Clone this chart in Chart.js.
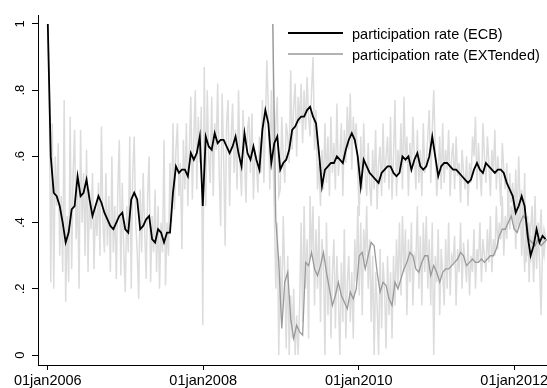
<!DOCTYPE html>
<html>
<head>
<meta charset="utf-8">
<script src="https://cdn.jsdelivr.net/npm/chart.js@4.4.0/dist/chart.umd.min.js"></script>
<style>
  html, body { margin: 0; padding: 0; background: #fff; }
  #wrap { width: 547px; height: 388px; }
</style>
</head>
<body>
<div id="wrap"><canvas id="chart" width="547" height="388"></canvas></div>
<script>
// days are counted from 01jan2006; raw series are weekly, smoothed ones every two weeks
const ecbStartDay = 0;
const extStartDay = 1057;
const rawStep = 7;
const smoothStep = 14;

// weekly participation rate, ECB counterparties
const ecbRaw = [
  1.00, .80, .22, .70, .20, .60, .45, .64, .30, .48, .25, .77, .16, .42, .22, .72, .26, .55, .68, .35, .50, .20, .68, .40, .55, .30,
  .62, .25, .50, .38, .55, .26, .45, .36, .52, .30, .69, .40, .31, .55, .33, .48, .25, .60, .31, .45, .23, .50, .65, .24, .52, .31,
  .19, .45, .31, .66, .20, .55, .66, .40, .31, .17, .50, .31, .55, .38, .23, .48, .60, .22, .42, .31, .50, .25, .45, .20, .40, .31,
  .65, .21, .40, .30, .58, .40, .70, .44, .62, .70, .48, .58, .32, .65, .50, .70, .45, .62, .78, .47, .66, .80, .50, .72, .58, .75,
  .09, .87, .45, .80, .60, .52, .78, .48, .70, .62, .82, .55, .39, .79, .60, .33, .70, .77, .45, .65, .76, .55, .68, .50, .80, .58,
  .48, .74, .60, .46, .68, .72, .55, .73, .47, .62, .58, .49, .66, .55, .77, .52, .70, .89, .75, .50, .80, .62, .45, .70, .78, .48,
  .50, .72, .60, .52, .70, .66, .58, .86, .62, .75, .82, .60, .78, .70, .82, .64, .80, .68, .84, .72, .66, .80, .90, .62, .74, .50,
  .58, .45, .62, .50, .70, .52, .66, .48, .72, .55, .64, .50, .76, .54, .60, .70, .48, .68, .58, .75, .62, .79, .56, .72, .64, .70,
  .55, .42, .66, .50, .70, .55, .48, .64, .52, .45, .62, .50, .68, .44, .58, .63, .48, .70, .52, .60, .66, .50, .72, .47, .60, .77,
  .48, .62, .55, .70, .50, .78, .58, .66, .48, .64, .55, .72, .60, .50, .68, .52, .62, .48, .70, .55, .58, .66, .74, .52, .68, .80,
  .62, .48, .55, .66, .50, .70, .52, .62, .56, .68, .48, .60, .64, .50, .66, .54, .58, .46, .62, .55, .50, .60, .45, .58, .52, .66,
  .60, .72, .50, .64, .55, .48, .70, .60, .52, .66, .58, .48, .62, .55, .68, .50, .60, .54, .45, .64, .56, .50, .58, .42, .55, .46,
  .52, .38, .56, .40, .60, .45, .50, .35, .55, .28, .42, .22, .38, .45, .30, .48, .26, .40, .34, .44, .30, .38, .36
];

// weekly participation rate, extended set of counterparties
const extRaw = [
  1.00, .45, .20, .40, .00, .30, .10, .42, .25, .02, .30, .00, .18, .05, .20, .00, .12, .00, .15, .40, .10, .45, .20, .35, .05, .48,
  .30, .45, .15, .38, .20, .42, .10, .35, .28, .00, .40, .12, .30, .05, .25, .35, .08, .30, .18, .00, .28, .10, .38, .05, .22, .30,
  .10, .25, .05, .35, .22, .45, .18, .40, .12, .38, .28, .45, .20, .35, .10, .30, .00, .25, .15, .00, .32, .08, .28, .20, .02, .30,
  .12, .25, .05, .30, .15, .35, .20, .40, .18, .42, .25, .38, .12, .35, .22, .40, .15, .30, .28, .45, .20, .36, .15, .40, .25, .42,
  .20, .35, .15, .40, .00, .30, .22, .38, .12, .32, .25, .15, .35, .20, .40, .18, .30, .28, .36, .15, .32, .25, .40, .20, .34, .28,
  .22, .35, .18, .30, .25, .38, .20, .32, .28, .40, .22, .35, .30, .25, .38, .28, .42, .25, .35, .30, .45, .32, .40, .35, .48, .30,
  .42, .35, .48, .38, .45, .40, .50, .32, .44, .38, .48, .30, .42, .25, .38, .30, .40, .28, .36, .22, .35, .30, .38, .28, .12, .33, .30, .36
];

// smoothed rates
const ecbSmooth = [
  1.00, .60, .49, .48, .45, .40, .34, .37, .44, .45,
  .54, .48, .49, .53, .47, .42, .45, .48, .46, .43,
  .41, .39, .38, .40, .42, .43, .38, .37, .47, .49,
  .47, .38, .39, .41, .42, .35, .34, .38, .37, .34,
  .37, .37, .49, .57, .55, .56, .56, .54, .61, .59,
  .61, .66, .45, .66, .63, .62, .67, .64, .65, .65,
  .63, .61, .63, .66, .61, .57, .67, .61, .59, .63,
  .59, .56, .68, .74, .70, .58, .64, .66, .56, .58,
  .59, .62, .68, .69, .71, .72, .72, .74, .75, .72,
  .70, .61, .51, .56, .57, .58, .58, .60, .59, .58,
  .62, .65, .67, .65, .60, .51, .59, .57, .55, .54,
  .53, .52, .55, .56, .57, .57, .55, .54, .55, .60,
  .59, .60, .56, .59, .61, .57, .56, .57, .60, .66,
  .60, .54, .57, .58, .58, .57, .56, .56, .55, .54,
  .53, .52, .53, .56, .58, .56, .55, .58, .57, .56,
  .55, .56, .56, .55, .52, .50, .48, .43, .45, .48,
  .45, .36, .30, .33, .38, .34, .36, .35
];

const extSmooth = [
  1.00, .41, .28, .08, .22, .25, .11, .05, .09, .07,
  .06, .28, .27, .31, .26, .24, .27, .31, .25, .20,
  .15, .18, .22, .18, .16, .14, .19, .17, .20, .30,
  .31, .26, .30, .34, .33, .25, .19, .22, .21, .17,
  .15, .22, .20, .23, .26, .28, .31, .30, .26, .25,
  .28, .30, .30, .24, .27, .25, .22, .25, .26, .26,
  .27, .28, .29, .31, .30, .27, .28, .29, .28, .28,
  .29, .28, .29, .30, .30, .32, .36, .38, .38, .40,
  .42, .38, .37, .40, .42, .41, .35, .34, .33, .35,
  .33, .34, .35
];

const seriesLabels = ['participation rate (ECB)', 'participation rate (EXTended)'];
const xTickDays = [0, 730, 1461, 2191];
const xTickLabels = ['01jan2006', '01jan2008', '01jan2010', '01jan2012'];
const yTickValues = [0, .2, .4, .6, .8, 1];
const yTickLabels = ['0', '.2', '.4', '.6', '.8', '1'];

function toPoints(values, startDay, step) {
  return values.map((v, i) => ({ x: startDay + i * step, y: v }));
}

const FONT = "'Liberation Sans', Arial, Helvetica, sans-serif";
Chart.defaults.font.family = FONT;
Chart.defaults.color = '#000';

// legend keys drawn inside the plot, top right, in seriesLabels order
const legendKeys = {
  id: 'legendKeys',
  afterDraw(chart) {
    const ctx = chart.ctx;
    ctx.save();
    ctx.font = '14.5px ' + FONT;
    ctx.textBaseline = 'middle';
    ctx.fillStyle = '#000';
    seriesLabels.forEach((label, i) => {
      const ds = chart.data.datasets.find(d => d.label === label);
      const y = 33 + i * 21;
      ctx.strokeStyle = ds.borderColor;
      ctx.lineWidth = ds.borderWidth;
      ctx.beginPath();
      ctx.moveTo(288, y);
      ctx.lineTo(343, y);
      ctx.stroke();
      ctx.fillText(label, 352, y + 2);
    });
    ctx.restore();
  }
};

// lower order is painted later, so the smoothed lines sit on top of the raw ones
new Chart(document.getElementById('chart'), {
  type: 'line',
  data: {
    datasets: [
      { label: '', order: 3, data: toPoints(ecbRaw, ecbStartDay, rawStep), borderColor: '#dcdcdc', borderWidth: 1.5 },
      { label: '', order: 2, data: toPoints(extRaw, extStartDay, rawStep), borderColor: '#dcdcdc', borderWidth: 1.5 },
      { label: seriesLabels[1], order: 1, data: toPoints(extSmooth, extStartDay, smoothStep), borderColor: '#999999', borderWidth: 1.3 },
      { label: seriesLabels[0], order: 0, data: toPoints(ecbSmooth, ecbStartDay, smoothStep), borderColor: '#000000', borderWidth: 1.8 }
    ].map(d => Object.assign(d, { pointRadius: 0, tension: 0, fill: false }))
  },
  options: {
    responsive: false,
    animation: false,
    devicePixelRatio: 1,
    layout: { padding: { top: 15, right: 0, bottom: 0, left: 0 } },
    plugins: { legend: { display: false }, tooltip: { enabled: false } },
    scales: {
      x: {
        type: 'linear',
        min: -46,
        max: 2345,
        border: { display: true, color: '#000', width: 1 },
        grid: { drawOnChartArea: false, drawTicks: true, tickLength: 5, color: '#000' },
        ticks: {
          autoSkip: false, maxRotation: 0, padding: 2,
          font: { size: 14.5 },
          callback: (v, i) => xTickLabels[i]
        },
        afterBuildTicks: s => { s.ticks = xTickDays.map(v => ({ value: v })); },
        afterFit: s => { s.height = 23; s.paddingLeft = 0; s.paddingRight = 0; }
      },
      y: {
        type: 'linear',
        min: -0.030,
        max: 1.027,
        border: { display: true, color: '#000', width: 1 },
        grid: { drawOnChartArea: false, drawTicks: true, tickLength: 6, color: '#000' },
        ticks: {
          minRotation: 90, maxRotation: 90, crossAlign: 'center', padding: 6,
          font: { size: 13 },
          callback: (v, i) => yTickLabels[i]
        },
        afterBuildTicks: s => { s.ticks = yTickValues.map(v => ({ value: v })); },
        afterFit: s => { s.width = 38; s.paddingTop = 0; s.paddingBottom = 0; }
      }
    }
  },
  plugins: [legendKeys]
});
</script>
</body>
</html>
